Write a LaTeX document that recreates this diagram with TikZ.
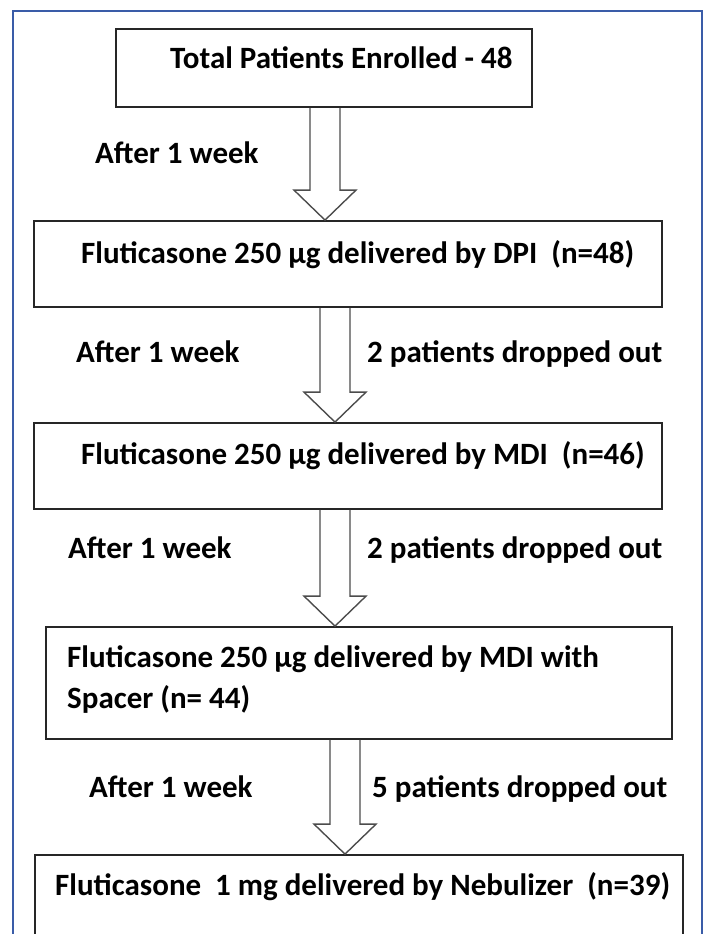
\documentclass[tikz,border=0pt]{standalone}
\usepackage{fontspec}
\setmainfont{Carlito}
\usetikzlibrary{calc}
\definecolor{frameblue}{RGB}{58,92,168}

\begin{document}
\begin{tikzpicture}[x=1pt, y=-1pt,
    stage/.style={rectangle, draw=black!85, line width=1.8pt, inner sep=0pt},
    caption/.style={anchor=base west, inner sep=0pt, align=left, font=\fontsize{31}{41}\selectfont\bfseries},
    note/.style={anchor=base west, inner sep=0pt, font=\fontsize{31}{36}\selectfont\bfseries},
    hollow/.style={draw=black!70, line width=1.4pt, line join=miter},
    frame/.style={draw=frameblue, line width=1.6pt}
]
\clip (0,0) rectangle (705,934);

\draw[frame] (13,940) -- (13,11) -- (702,11) -- (702,940);

% stages
\node[stage, minimum width=416pt, minimum height=78pt] (b1) at (324,68) {};
\node[stage, minimum width=628pt, minimum height=86pt] (b2) at (348,264) {};
\node[stage, minimum width=628pt, minimum height=86pt] (b3) at (348,466) {};
\node[stage, minimum width=626pt, minimum height=112pt] (b4) at (359,683) {};
\node[stage, minimum width=648pt, minimum height=110pt] (b5) at (359,910) {};

\node[caption] (t1) at (170,68) {Total Patients Enrolled - 48};
\node[caption] (t2) at (81,263) {Fluticasone 250 µg delivered by DPI~ (n=48)};
\node[caption] (t3) at (81,464) {Fluticasone 250 µg delivered by MDI~ (n=46)};
\node[caption] (t4) at (67,708) {Fluticasone 250 µg delivered by MDI with\\Spacer (n= 44)};
\node[caption] (t5) at (55,895) {Fluticasone~ 1 mg delivered by Nebulizer~ (n=39)};

% side notes
\node[note] (w1) at (95,163) {After 1 week};
\node[note] (w2) at (76,362) {After 1 week};
\node[note] (d2) at (367,362) {2 patients dropped out};
\node[note] (w3) at (68,558) {After 1 week};
\node[note] (d3) at (367,558) {2 patients dropped out};
\node[note] (w4) at (89,797) {After 1 week};
\node[note] (d4) at (372,797) {5 patients dropped out};

% block arrows
\foreach \from/\to/\mx in {b1/b2/325, b2/b3/335, b3/b4/335, b4/b5/345}
  \draw[hollow] let \p1=(\from.south), \p2=(\to.north) in
    ({(\mx-15)*1pt},\y1) -- ({(\mx-15)*1pt},\y2+30pt) -- ({(\mx-31)*1pt},\y2+30pt)
    -- ({\mx*1pt},\y2) -- ({(\mx+31)*1pt},\y2+30pt) -- ({(\mx+15)*1pt},\y2+30pt)
    -- ({(\mx+15)*1pt},\y1);

\end{tikzpicture}
\end{document}
